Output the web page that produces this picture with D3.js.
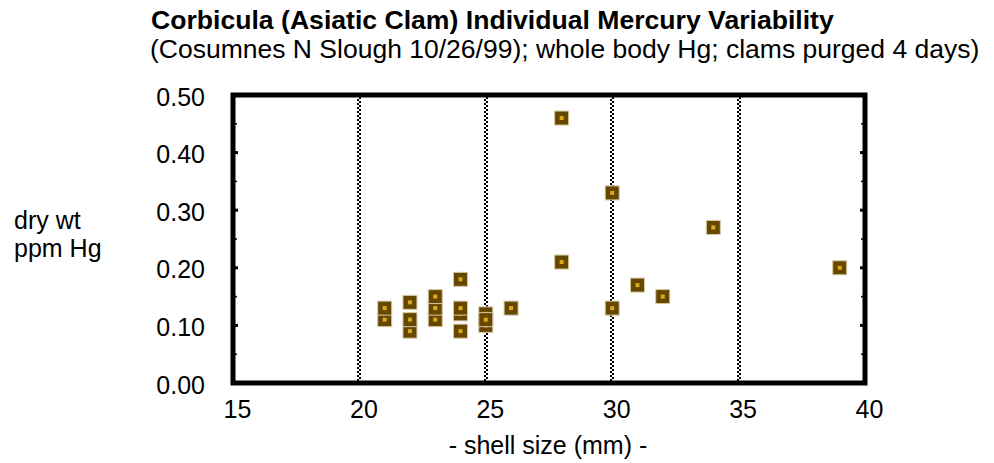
<!DOCTYPE html>
<html>
<head>
<meta charset="utf-8">
<script src="https://cdn.jsdelivr.net/npm/d3@7"></script>
<style>
  html, body { margin: 0; padding: 0; background: #fff; }
  svg { display: block; font-family: "Liberation Sans", Arial, Helvetica, sans-serif; }
</style>
</head>
<body>
<svg id="chart" width="994" height="463"></svg>
<script>
// Shell size (mm) and whole-body Hg (ppm, dry wt) for individual clams
const shellSize = [21, 21, 22, 22, 22, 23, 23, 23, 24, 24, 24, 24, 25, 25, 25, 26, 28, 28, 30, 30, 31, 32, 34, 39];
const mercury   = [0.11, 0.13, 0.14, 0.09, 0.11, 0.11, 0.13, 0.15, 0.18, 0.09, 0.12, 0.13, 0.10, 0.12, 0.11, 0.13, 0.46, 0.21, 0.33, 0.13, 0.17, 0.15, 0.27, 0.20];

const xTicks = [15, 20, 25, 30, 35, 40];
const yTicks = [0, 0.1, 0.2, 0.3, 0.4, 0.5];
const yMinorTicks = [0.05, 0.15, 0.25, 0.35, 0.45];
const gridValues = [20, 25, 30, 35];

const titleText = "Corbicula (Asiatic Clam) Individual Mercury Variability";
const subtitleText = "(Cosumnes N Slough 10/26/99); whole body Hg; clams purged 4 days)";
const xAxisTitle = "- shell size (mm) -";
const yAxisTitle = ["dry wt", "ppm Hg"];

const svg = d3.select("#chart");

const plot = { left: 233, right: 865, top: 95, bottom: 383 };

const x = d3.scaleLinear().domain([15, 40]).range([plot.left, plot.right]);
const y = d3.scaleLinear().domain([0, 0.5]).range([plot.bottom, plot.top]);

// Title block
svg.append("text")
  .attr("x", 151).attr("y", 29)
  .attr("font-size", 26.6).attr("font-weight", "bold")
  .text(titleText);
svg.append("text")
  .attr("x", 150).attr("y", 58)
  .attr("font-size", 26.5)
  .text(subtitleText);

// Vertical checkered gridlines
const grid = svg.append("g");
gridValues.forEach(v => {
  const gx = Math.round(x(v));
  grid.append("line")
    .attr("x1", gx - 1).attr("x2", gx - 1)
    .attr("y1", plot.top).attr("y2", plot.bottom)
    .attr("stroke", "#000").attr("stroke-width", 2)
    .attr("stroke-dasharray", "2,2");
  grid.append("line")
    .attr("x1", gx + 1).attr("x2", gx + 1)
    .attr("y1", plot.top).attr("y2", plot.bottom)
    .attr("stroke", "#000").attr("stroke-width", 2)
    .attr("stroke-dasharray", "2,2").attr("stroke-dashoffset", 2);
});

// Points
const size = 14;
const pts = svg.append("g")
  .selectAll("g")
  .data(shellSize.map((s, i) => ({ s, v: mercury[i] })))
  .join("g")
  .attr("transform", d => `translate(${x(d.s)},${y(d.v)})`);
pts.append("rect")
  .attr("x", -size / 2).attr("y", -size / 2)
  .attr("width", size).attr("height", size)
  .attr("fill", "#664700")
  .attr("stroke", "#d8c9a6").attr("stroke-width", 1);
pts.append("rect")
  .attr("x", -2).attr("y", -2)
  .attr("width", 4).attr("height", 4)
  .attr("fill", "#d9aa1a");

// Plot frame
svg.append("rect")
  .attr("x", plot.left).attr("y", plot.top)
  .attr("width", plot.right - plot.left).attr("height", plot.bottom - plot.top)
  .attr("fill", "none").attr("stroke", "#000").attr("stroke-width", 5);

// Inward tick marks on both vertical borders
const tickG = svg.append("g").attr("stroke", "#000");
yTicks.slice(1, -1).forEach(v => {
  tickG.append("line").attr("x1", plot.left).attr("x2", plot.left + 5)
    .attr("y1", y(v)).attr("y2", y(v)).attr("stroke-width", 3);
  tickG.append("line").attr("x1", plot.right).attr("x2", plot.right - 5)
    .attr("y1", y(v)).attr("y2", y(v)).attr("stroke-width", 3);
});
yMinorTicks.forEach(v => {
  tickG.append("line").attr("x1", plot.left).attr("x2", plot.left + 4)
    .attr("y1", y(v)).attr("y2", y(v)).attr("stroke-width", 1.5);
  tickG.append("line").attr("x1", plot.right).attr("x2", plot.right - 4)
    .attr("y1", y(v)).attr("y2", y(v)).attr("stroke-width", 1.5);
});

// Axis tick labels
const xAxis = d3.axisBottom(x).tickValues(xTicks).tickSize(0).tickPadding(0).tickFormat(d3.format("d"));
const gx = svg.append("g").attr("transform", `translate(4,${plot.bottom})`).call(xAxis);
gx.select(".domain").remove();
gx.selectAll("text").attr("font-size", 25).attr("font-family", null).attr("fill", "#000")
  .attr("dy", null).attr("y", 35);

const yAxis = d3.axisLeft(y).tickValues(yTicks).tickSize(0).tickPadding(0).tickFormat(d3.format(".2f"));
const gy = svg.append("g").attr("transform", `translate(${plot.left - 28},2)`).call(yAxis);
gy.select(".domain").remove();
gy.selectAll("text").attr("font-size", 25).attr("font-family", null).attr("fill", "#000");

// Axis titles
svg.append("text")
  .attr("x", 548).attr("y", 454)
  .attr("text-anchor", "middle").attr("font-size", 25)
  .text(xAxisTitle);
svg.append("text")
  .attr("font-size", 25)
  .selectAll("tspan")
  .data(yAxisTitle)
  .join("tspan")
  .attr("x", 14)
  .attr("y", (d, i) => 229 + i * 28)
  .text(d => d);
</script>
</body>
</html>
